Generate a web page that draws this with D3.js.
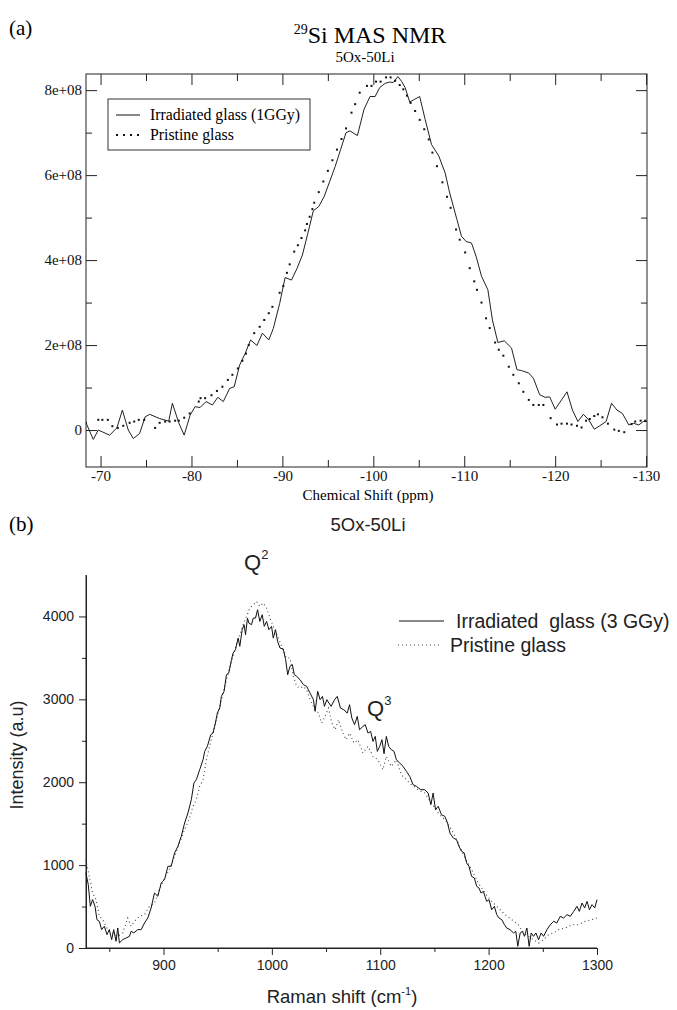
<!DOCTYPE html>
<html>
<head>
<meta charset="utf-8">
<script src="https://cdn.jsdelivr.net/npm/d3@7"></script>
<style>
  body { margin: 0; background: #fff; }
  svg { display: block; }
</style>
</head>
<body>
<div id="chart"></div>
<script>
// ---- (a) 29Si MAS NMR, values in units of 1e8 ----
const nmrIrrShift = [-68.4, -69.2, -69.75, -71.0, -71.8, -72.4, -73.05, -73.6, -74.3, -74.9, -75.4, -76.5, -77.5, -77.9, -78.6, -79.2, -79.85, -80.4, -80.95, -81.6, -82.3, -82.9, -83.5, -84.2, -84.7, -85.3, -85.9, -86.5, -87.2, -87.8, -88.5, -89.0, -89.7, -90.3, -91.0, -91.6, -92.2, -92.8, -93.4, -94.0, -94.6, -95.2, -95.8, -96.4, -97.0, -97.44, -98.25, -98.98, -99.64, -100.2, -100.7, -101.3, -101.8, -102.2, -102.7, -103.1, -103.5, -104.0, -104.5, -105.1, -105.7, -106.4, -107.2, -107.9, -108.4, -109.2, -109.7, -110.2, -110.8, -111.3, -111.9, -112.6, -113.1, -113.7, -114.4, -115.2, -115.8, -116.3, -117.1, -117.6, -118.3, -118.9, -119.4, -120.0, -120.7, -121.3, -121.9, -122.5, -123.1, -123.7, -124.3, -124.9, -125.6, -126.2, -126.8, -127.4, -128.1, -128.6, -129.2, -129.7, -130.1];
const nmrIrr = [0.17, -0.22, 0.0, -0.12, 0.05, 0.47, 0.0, -0.2, -0.08, 0.31, 0.37, 0.27, 0.21, 0.63, 0.17, -0.12, 0.35, 0.55, 0.53, 0.67, 0.59, 0.77, 0.67, 0.98, 1.02, 1.53, 1.8, 2.12, 1.99, 2.28, 2.12, 2.39, 2.98, 3.59, 3.53, 3.8, 4.12, 4.63, 5.16, 5.26, 5.5, 5.85, 6.2, 6.6, 7.0, 7.04, 6.93, 7.55, 7.85, 7.85, 8.06, 8.16, 8.19, 8.18, 8.32, 8.21, 8.06, 7.72, 7.78, 7.85, 7.31, 6.72, 6.45, 6.05, 5.58, 4.95, 4.56, 4.44, 4.4, 4.09, 3.62, 3.3, 2.59, 2.06, 2.1, 1.93, 1.42, 1.4, 1.34, 1.22, 0.83, 0.77, 0.78, 0.49, 0.71, 0.9, 0.47, 0.2, 0.37, 0.24, 0.02, 0.1, 0.2, 0.63, 0.47, 0.39, 0.12, 0.16, 0.12, 0.2, 0.2];

const nmrPriShift = [-68.4, -69.75, -70.2, -70.8, -71.3, -71.9, -72.5, -73.2, -73.7, -74.2, -74.8, -76.0, -76.5, -77.1, -77.6, -78.2, -78.6, -79.2, -79.8, -80.8, -81.0, -81.5, -82.2, -82.8, -83.4, -84.0, -84.5, -85.1, -85.6, -86.0, -86.3, -86.9, -87.5, -88.0, -88.5, -88.9, -89.7, -90.1, -90.5, -90.8, -91.3, -91.7, -92.1, -92.5, -92.7, -93.0, -93.3, -93.5, -94.0, -94.5, -95.0, -95.5, -96.0, -96.5, -97.0, -97.6, -98.0, -98.5, -99.3, -99.8, -100.3, -100.8, -101.4, -101.9, -102.4, -102.9, -103.3, -103.7, -104.1, -104.6, -105.1, -105.6, -106.1, -106.5, -107.0, -107.6, -108.1, -108.5, -109.1, -109.5, -110.1, -110.6, -111.1, -111.4, -111.9, -112.4, -112.8, -113.4, -113.8, -114.3, -114.9, -115.4, -116.0, -116.5, -117.1, -117.6, -118.2, -118.7, -119.5, -120.2, -120.7, -121.3, -121.8, -122.4, -122.9, -123.4, -123.8, -124.3, -124.7, -125.2, -125.8, -126.5, -127.0, -127.6, -128.4, -128.8, -129.4, -129.9];
const nmrPri = [0.17, 0.24, 0.24, 0.24, 0.09, 0.05, 0.10, 0.17, 0.2, 0.24, 0.24, 0.05, 0.17, 0.2, 0.2, 0.22, 0.22, 0.29, 0.39, 0.67, 0.75, 0.75, 0.82, 0.92, 1.02, 1.18, 1.3, 1.45, 1.63, 1.8, 2.0, 2.28, 2.43, 2.59, 2.75, 2.9, 3.23, 3.39, 3.7, 3.9, 4.2, 4.35, 4.52, 4.7, 4.85, 5.02, 5.2, 5.35, 5.6, 5.85, 6.1, 6.35, 6.6, 6.85, 7.1, 7.47, 7.67, 7.94, 8.1, 8.1, 8.2, 8.2, 8.3, 8.3, 8.22, 8.12, 8.02, 7.87, 7.7, 7.51, 7.3, 7.08, 6.84, 6.53, 6.21, 5.83, 5.49, 5.23, 4.72, 4.48, 4.18, 3.81, 3.5, 3.3, 3.0, 2.63, 2.4, 2.06, 1.89, 1.75, 1.49, 1.3, 1.1, 0.9, 0.71, 0.59, 0.59, 0.59, 0.28, 0.13, 0.15, 0.15, 0.13, 0.1, 0.06, 0.22, 0.26, 0.33, 0.37, 0.3, 0.15, 0.01, -0.02, -0.05, 0.14, 0.2, 0.22, 0.22];

const nmrXMajor = [-70, -80, -90, -100, -110, -120, -130];
const nmrXMinor = [-75, -85, -95, -105, -115, -125];
const nmrYMajor = [0, 2, 4, 6, 8];
const nmrYLabels = ['0', '2e+08', '4e+08', '6e+08', '8e+08'];
const nmrYMinor = [1, 3, 5, 7];

// ---- (b) Raman ----
const ramIrrShift = [828.4, 830.6, 832.5, 834.6, 836.8, 838.6, 840.8, 842.9, 845.4, 847.9, 850, 852.2, 854.1, 856.2, 857.8, 859.3, 862.4, 865.5, 868.6, 870.1, 872.6, 876.3, 879.4, 882.5, 885.5, 888.6, 891.7, 894.8, 897.9, 901, 904.1, 907.1, 910.2, 913.3, 916.4, 919.5, 922.6, 925.7, 928.1, 930.3, 933.4, 936.5, 938, 940.5, 943.6, 945.7, 947.9, 949.7, 951.9, 953.4, 955.9, 958.1, 960.2, 962.7, 964.2, 966.4, 968.9, 970.4, 972.6, 974.4, 975.7, 977.5, 978.8, 981.2, 982.8, 984.9, 986.8, 988.9, 991.1, 993, 995.1, 997.3, 999.7, 1001.3, 1003.4, 1005.3, 1007.5, 1010.5, 1012.7, 1014.6, 1016.7, 1018.9, 1020.7, 1022.9, 1026, 1029.1, 1032.1, 1035.2, 1038.3, 1039.9, 1042.3, 1044.5, 1046.7, 1048.5, 1050.7, 1054.7, 1057.8, 1060.3, 1063.3, 1066.4, 1069.5, 1071.7, 1073.8, 1076.3, 1078.8, 1080.9, 1084, 1086.2, 1088.7, 1091.1, 1093.3, 1095.4, 1097.3, 1099.5, 1101.6, 1103.5, 1105.6, 1107.8, 1110.3, 1112.7, 1114.9, 1118, 1121.1, 1124.1, 1127.2, 1130.3, 1133.4, 1137.4, 1141.1, 1144.2, 1146.7, 1148.8, 1151, 1153.5, 1156.5, 1159.6, 1162.1, 1164.3, 1167.4, 1170.4, 1172.6, 1175.1, 1177.5, 1179.7, 1181.9, 1184.3, 1186.8, 1189, 1191.1, 1193, 1195.1, 1198.2, 1200.4, 1202.8, 1205.3, 1207.5, 1209.6, 1212.1, 1214.6, 1216.7, 1219.8, 1222.9, 1225.1, 1226.9, 1229.1, 1231.2, 1233.1, 1235.3, 1237.4, 1239.3, 1241.4, 1243.6, 1246.1, 1248.5, 1250.7, 1253.8, 1256.9, 1260, 1263, 1266.1, 1269.2, 1272.3, 1275.4, 1278.5, 1281.5, 1283.7, 1286.2, 1288.6, 1290.8, 1293, 1295.4, 1297.9, 1300];
const ramIrr = [906, 765, 503, 584, 503, 342, 322, 222, 262, 161, 222, 101, 222, 81, 242, 61, 101, 121, 141, 202, 182, 222, 222, 302, 362, 483, 664, 624, 785, 825, 986, 986, 1146, 1227, 1348, 1508, 1629, 1790, 1991, 2031, 2151, 2272, 2372, 2433, 2573, 2594, 2714, 2835, 2895, 3036, 3096, 3297, 3317, 3478, 3558, 3599, 3739, 3639, 3840, 3900, 3780, 3980, 3920, 3900, 3980, 3980, 4081, 3940, 4021, 3880, 3940, 3840, 3880, 3739, 3840, 3699, 3619, 3607, 3478, 3297, 3398, 3418, 3297, 3277, 3237, 3177, 3156, 3076, 2996, 2855, 3096, 2996, 3036, 2915, 2996, 2915, 2995, 3035, 2894, 2874, 2834, 2935, 2774, 2694, 2794, 2633, 2673, 2694, 2593, 2613, 2492, 2553, 2372, 2432, 2513, 2344, 2553, 2432, 2392, 2372, 2271, 2231, 2191, 2131, 2070, 1970, 1950, 1910, 1910, 1869, 1729, 1869, 1668, 1709, 1608, 1588, 1508, 1387, 1327, 1307, 1226, 1166, 1146, 1025, 985, 864, 844, 744, 724, 663, 683, 563, 583, 462, 502, 402, 362, 342, 281, 241, 221, 181, 201, 20, 181, 201, 141, 241, 20, 181, 141, 181, 100, 181, 141, 221, 281, 322, 302, 382, 362, 402, 382, 442, 503, 442, 543, 483, 563, 462, 523, 483, 583];

const ramPriShift = [828.4, 831.5, 834.6, 837.7, 840.8, 843.9, 848.5, 853.1, 857.8, 862.4, 867, 870.1, 873.2, 877.8, 882.5, 887.1, 891.7, 896.3, 901, 905.6, 910.2, 914.9, 919.5, 924.1, 927.2, 930.3, 933.4, 936.5, 939.6, 942.6, 945.7, 948.8, 951.9, 955, 958.1, 961.2, 964.2, 967.3, 970.4, 973.5, 976.6, 979.7, 982.8, 985.9, 988.9, 992, 995.1, 998.2, 1001.3, 1005.3, 1009, 1013.6, 1016.7, 1019.8, 1022.9, 1026, 1029.1, 1032.1, 1035.2, 1038.3, 1042.9, 1046, 1049.1, 1052.2, 1055.3, 1058.4, 1061.5, 1065.5, 1068.6, 1071.7, 1075.7, 1079.4, 1084, 1088.7, 1093.3, 1097.9, 1102.5, 1105.6, 1110.3, 1114.9, 1119.5, 1124.1, 1128.8, 1134.9, 1141.1, 1147.3, 1153.5, 1159.6, 1165.8, 1172, 1178.2, 1184.3, 1190.5, 1196.7, 1202.8, 1209, 1215.2, 1221.3, 1227.5, 1232.2, 1236.8, 1241.4, 1246.1, 1250.7, 1255.3, 1260, 1264.6, 1270.8, 1276.9, 1283.1, 1289.2, 1295.4, 1300];
const ramPri = [1066, 865, 664, 584, 383, 342, 222, 182, 141, 182, 362, 262, 322, 383, 403, 503, 543, 704, 845, 946, 1106, 1267, 1428, 1569, 1709, 1790, 1951, 2031, 2272, 2433, 2594, 2755, 2915, 3076, 3237, 3378, 3518, 3659, 3780, 3900, 4000, 4101, 4141, 4181, 4121, 4161, 4101, 3980, 3880, 3759, 3639, 3498, 3498, 3277, 3156, 3136, 3156, 3116, 2996, 2915, 2835, 2714, 2795, 2895, 2714, 2634, 2755, 2593, 2513, 2593, 2473, 2513, 2352, 2432, 2312, 2271, 2151, 2312, 2191, 2271, 2090, 2030, 1970, 1910, 1869, 1749, 1628, 1548, 1427, 1266, 1085, 945, 784, 663, 563, 483, 402, 342, 281, 181, 141, 100, 60, 100, 161, 181, 221, 241, 281, 281, 322, 342, 362];

const ramXMajor = [900, 1000, 1100, 1200, 1300];
const ramXMinor = [850, 950, 1050, 1150, 1250];
const ramYMajor = [0, 1000, 2000, 3000, 4000];
const ramYMinor = [500, 1500, 2500, 3500];

const serif = '"Liberation Serif", "Times New Roman", serif';
const sans = '"Liberation Sans", Arial, sans-serif';

const svg = d3.select('#chart').append('svg')
    .attr('width', 677)
    .attr('height', 1010);

// ================= Panel (a) =================
const a = { left: 86, right: 647, top: 74, bottom: 467 };
const xA = d3.scaleLinear().domain([-68.4, -130.1]).range([a.left, a.right]);
const yA = d3.scaleLinear().domain([-0.87, 8.38]).range([a.bottom, a.top]);

const gA = svg.append('g');

gA.append('text').attr('x', 9).attr('y', 35)
    .style('font-family', serif).style('font-size', '21px').text('(a)');

const titleA = gA.append('text').attr('x', 370).attr('y', 43).attr('text-anchor', 'middle')
    .style('font-family', serif).style('font-size', '24px');
titleA.append('tspan').attr('dy', -9).style('font-size', '14px').text('29');
titleA.append('tspan').attr('dy', 9).text('Si MAS NMR');

gA.append('text').attr('x', 365).attr('y', 62).attr('text-anchor', 'middle')
    .style('font-family', serif).style('font-size', '15px').text('5Ox-50Li');

// frame
gA.append('rect')
    .attr('x', a.left).attr('y', a.top)
    .attr('width', a.right - a.left).attr('height', a.bottom - a.top)
    .attr('fill', 'none').attr('stroke', '#222').attr('stroke-width', 1);

function inwardTicks(g, axisFn, scale, values, size, labels) {
    const ax = axisFn(scale).tickValues(values).tickSize(-size).tickPadding(size + 4);
    if (labels) ax.tickFormat((d, i) => labels[i]); else ax.tickFormat('');
    g.call(ax);
    g.select('.domain').remove();
    g.selectAll('line').attr('stroke', '#222');
    g.selectAll('text').style('font-family', serif).style('font-size', '15px').attr('fill', '#111');
}

const xAb = gA.append('g').attr('transform', `translate(0,${a.bottom})`);
inwardTicks(xAb, d3.axisBottom, xA, nmrXMajor, 11, nmrXMajor.map(String));
xAb.selectAll('text').attr('y', 3);
inwardTicks(gA.append('g').attr('transform', `translate(0,${a.bottom})`), d3.axisBottom, xA, nmrXMinor, 7, null);
inwardTicks(gA.append('g').attr('transform', `translate(0,${a.top})`), d3.axisTop, xA, nmrXMajor, 11, null);
inwardTicks(gA.append('g').attr('transform', `translate(0,${a.top})`), d3.axisTop, xA, nmrXMinor, 7, null);

const yAl = gA.append('g').attr('transform', `translate(${a.left},0)`);
inwardTicks(yAl, d3.axisLeft, yA, nmrYMajor, 11, nmrYLabels);
yAl.selectAll('text').attr('x', -4);
inwardTicks(gA.append('g').attr('transform', `translate(${a.left},0)`), d3.axisLeft, yA, nmrYMinor, 6, null);
inwardTicks(gA.append('g').attr('transform', `translate(${a.right},0)`), d3.axisRight, yA, nmrYMajor, 11, null);
inwardTicks(gA.append('g').attr('transform', `translate(${a.right},0)`), d3.axisRight, yA, nmrYMinor, 6, null);

gA.append('text').attr('x', 368).attr('y', 500).attr('text-anchor', 'middle')
    .style('font-family', serif).style('font-size', '15px').text('Chemical Shift (ppm)');

svg.append('clipPath').attr('id', 'clipA').append('rect')
    .attr('x', a.left).attr('y', a.top).attr('width', a.right - a.left).attr('height', a.bottom - a.top);

const lineA = d3.line().x(d => xA(d[0])).y(d => yA(d[1]));
gA.append('path')
    .datum(d3.zip(nmrIrrShift, nmrIrr))
    .attr('clip-path', 'url(#clipA)')
    .attr('fill', 'none').attr('stroke', '#222').attr('stroke-width', 1)
    .attr('d', lineA);

gA.append('g').attr('clip-path', 'url(#clipA)')
    .selectAll('rect.pri').data(d3.zip(nmrPriShift, nmrPri)).join('rect')
    .attr('class', 'pri')
    .attr('x', d => xA(d[0]) - 1).attr('y', d => yA(d[1]) - 1)
    .attr('width', 2).attr('height', 2).attr('fill', '#111');

// legend (a)
const legA = gA.append('g');
legA.append('rect').attr('x', 108).attr('y', 99).attr('width', 202).attr('height', 51)
    .attr('fill', '#fff').attr('stroke', '#333').attr('stroke-width', 1);
legA.append('line').attr('x1', 116).attr('x2', 140).attr('y1', 115).attr('y2', 115)
    .attr('stroke', '#111').attr('stroke-width', 1);
legA.append('line').attr('x1', 116).attr('x2', 141).attr('y1', 135).attr('y2', 135)
    .attr('stroke', '#111').attr('stroke-width', 2).attr('stroke-dasharray', '2,5');
legA.append('text').attr('x', 150).attr('y', 120)
    .style('font-family', serif).style('font-size', '15.8px').text('Irradiated glass (1GGy)');
legA.append('text').attr('x', 150).attr('y', 140)
    .style('font-family', serif).style('font-size', '15.8px').text('Pristine glass');

// ================= Panel (b) =================
const b = { left: 86, right: 597, top: 575, bottom: 948 };
const xB = d3.scaleLinear().domain([828.5, 1300]).range([b.left, b.right]);
const yB = d3.scaleLinear().domain([0, 4500]).range([b.bottom, b.top]);
const gB = svg.append('g');

gB.append('text').attr('x', 9).attr('y', 531)
    .style('font-family', serif).style('font-size', '21px').text('(b)');
gB.append('text').attr('x', 368).attr('y', 531).attr('text-anchor', 'middle')
    .style('font-family', sans).style('font-size', '18.5px').attr('fill', '#222').text('5Ox-50Li');

function outTicks(g, axisFn, scale, values, size, labels) {
    const ax = axisFn(scale).tickValues(values).tickSizeInner(size).tickSizeOuter(0).tickPadding(5);
    if (labels) ax.tickFormat((d, i) => labels[i]); else ax.tickFormat('');
    g.call(ax);
    g.selectAll('line').attr('stroke', '#222');
    g.select('.domain').attr('stroke', '#222');
    g.selectAll('text').style('font-family', sans).style('font-size', '14px').attr('fill', '#222');
}

outTicks(gB.append('g').attr('transform', `translate(0,${b.bottom})`), d3.axisBottom, xB, ramXMinor, 4, null);
const xBb = gB.append('g').attr('transform', `translate(0,${b.bottom})`);
outTicks(xBb, d3.axisBottom, xB, ramXMajor, 7, ramXMajor.map(String));
outTicks(gB.append('g').attr('transform', `translate(${b.left},0)`), d3.axisLeft, yB, ramYMinor, 4, null);
const yBl = gB.append('g').attr('transform', `translate(${b.left},0)`);
outTicks(yBl, d3.axisLeft, yB, ramYMajor, 7, ramYMajor.map(String));
gB.append('line').attr('x1', b.left).attr('x2', b.left).attr('y1', b.top).attr('y2', b.bottom).attr('stroke', '#222');
gB.append('line').attr('x1', b.left).attr('x2', b.right).attr('y1', b.bottom).attr('y2', b.bottom).attr('stroke', '#222');

gB.append('text')
    .attr('transform', `translate(23,755) rotate(-90)`)
    .attr('text-anchor', 'middle')
    .style('font-family', sans).style('font-size', '18px').attr('fill', '#222').text('Intensity (a.u)');

const xlabB = gB.append('text').attr('x', 342).attr('y', 1003).attr('text-anchor', 'middle')
    .style('font-family', sans).style('font-size', '18.5px').attr('fill', '#222');
xlabB.append('tspan').text('Raman shift (cm');
xlabB.append('tspan').attr('dy', -8).style('font-size', '11px').text('-1');
xlabB.append('tspan').attr('dy', 8).text(')');

const lineB = d3.line().x(d => xB(d[0])).y(d => yB(d[1]));
gB.append('path').datum(d3.zip(ramPriShift, ramPri))
    .attr('fill', 'none').attr('stroke', '#444').attr('stroke-width', 1.1)
    .attr('stroke-dasharray', '1,3').attr('d', lineB);
gB.append('path').datum(d3.zip(ramIrrShift, ramIrr))
    .attr('fill', 'none').attr('stroke', '#111').attr('stroke-width', 1)
    .attr('d', lineB);

// annotations
const q2 = gB.append('text').attr('x', 244).attr('y', 570)
    .style('font-family', sans).style('font-size', '22px').attr('fill', '#222');
q2.append('tspan').text('Q');
q2.append('tspan').attr('dy', -11).style('font-size', '13px').text('2');
const q3 = gB.append('text').attr('x', 367).attr('y', 716)
    .style('font-family', sans).style('font-size', '22px').attr('fill', '#222');
q3.append('tspan').text('Q');
q3.append('tspan').attr('dy', -11).style('font-size', '13px').text('3');

// legend (b)
gB.append('line').attr('x1', 399).attr('x2', 444).attr('y1', 621).attr('y2', 621)
    .attr('stroke', '#111').attr('stroke-width', 1);
gB.append('line').attr('x1', 398).attr('x2', 441).attr('y1', 645).attr('y2', 645)
    .attr('stroke', '#444').attr('stroke-width', 1.1).attr('stroke-dasharray', '1,3');
gB.append('text').attr('x', 456).attr('y', 628)
    .style('font-family', sans).style('font-size', '19.5px').attr('fill', '#222')
    .style('white-space', 'pre').text('Irradiated  glass (3 GGy)');
gB.append('text').attr('x', 450).attr('y', 652)
    .style('font-family', sans).style('font-size', '19.5px').attr('fill', '#222').text('Pristine glass');
</script>
</body>
</html>
